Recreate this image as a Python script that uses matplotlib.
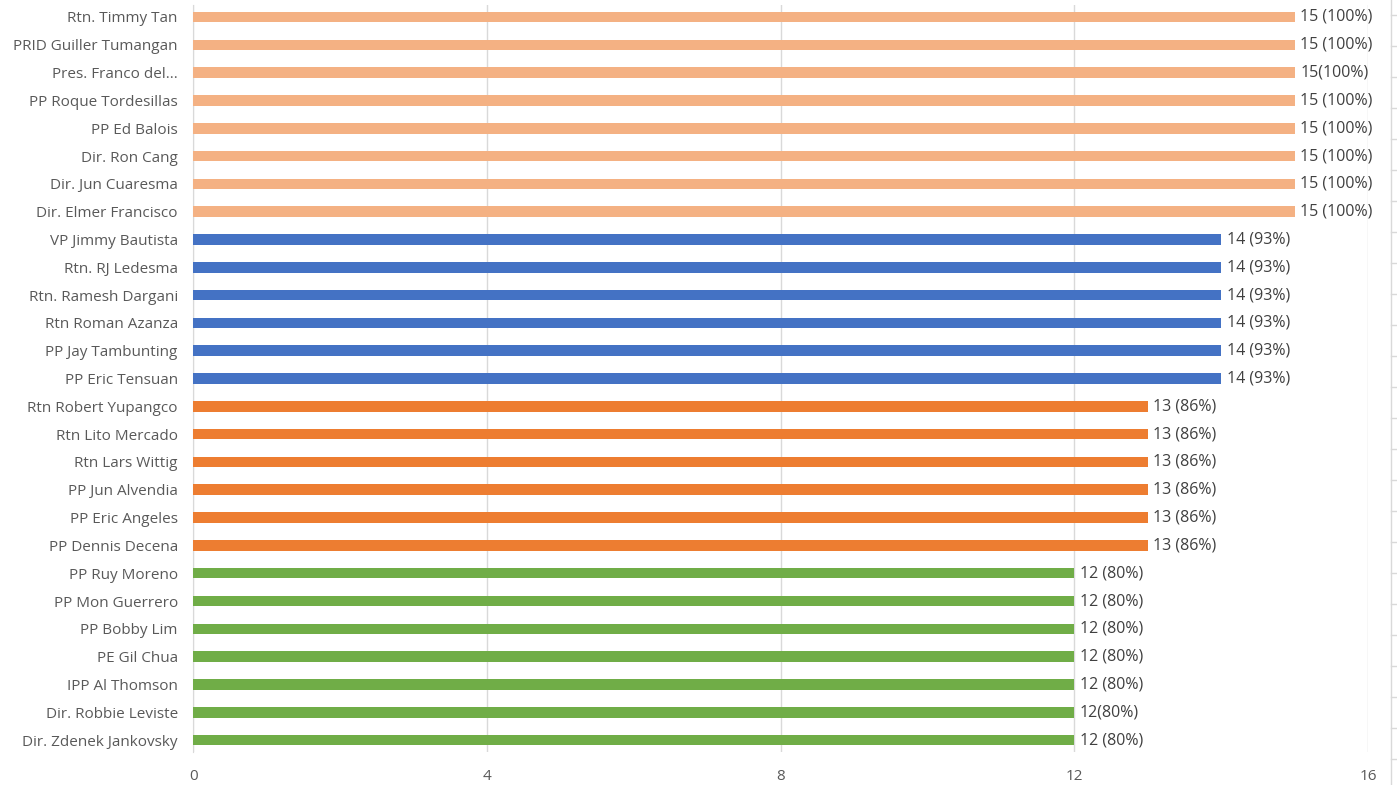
import matplotlib.pyplot as plt
from matplotlib.lines import Line2D

names = ["Rtn. Timmy Tan", "PRID Guiller Tumangan", "Pres. Franco del...", "PP Roque Tordesillas",
         "PP Ed Balois", "Dir. Ron Cang", "Dir. Jun Cuaresma", "Dir. Elmer Francisco",
         "VP Jimmy Bautista", "Rtn. RJ Ledesma", "Rtn. Ramesh Dargani", "Rtn Roman Azanza",
         "PP Jay Tambunting", "PP Eric Tensuan",
         "Rtn Robert Yupangco", "Rtn Lito Mercado", "Rtn Lars Wittig", "PP Jun Alvendia",
         "PP Eric Angeles", "PP Dennis Decena",
         "PP Ruy Moreno", "PP Mon Guerrero", "PP Bobby Lim", "PE Gil Chua", "IPP Al Thomson",
         "Dir. Robbie Leviste", "Dir. Zdenek Jankovsky"]
values = [15] * 8 + [14] * 6 + [13] * 6 + [12] * 7
labels = ["15 (100%)", "15 (100%)", "15(100%)", "15 (100%)", "15 (100%)", "15 (100%)", "15 (100%)", "15 (100%)",
          "14 (93%)", "14 (93%)", "14 (93%)", "14 (93%)", "14 (93%)", "14 (93%)",
          "13 (86%)", "13 (86%)", "13 (86%)", "13 (86%)", "13 (86%)", "13 (86%)",
          "12 (80%)", "12 (80%)", "12 (80%)", "12 (80%)", "12 (80%)", "12(80%)", "12 (80%)"]
group_colors = {15: "#F4B183", 14: "#4472C4", 13: "#ED7D31", 12: "#70AD47"}
xticks = [0, 4, 8, 12, 16]

plt.rcParams['font.family'] = ['Open Sans', 'DejaVu Sans']
txt = "#595959"

fig = plt.figure(figsize=(13.97, 7.85), dpi=100)
ax = fig.add_axes([0.1382, 0.042, 0.841, 0.9516])

n = len(names)
ypos = list(range(n - 1, -1, -1))
colors = [group_colors[v] for v in values]
ax.barh(ypos, values, height=0.38, color=colors, zorder=3)
for y, v, lab in zip(ypos, values, labels):
    ax.annotate(lab, (v, y), xytext=(4, 0), textcoords="offset points",
                va="center", ha="left", fontsize=11.5, color="#404040")

ax.set_yticks(ypos)
ax.set_yticklabels(names, fontsize=11, color=txt)
ax.set_xticks(xticks)
ax.set_xticklabels([str(t) for t in xticks], fontsize=11, color=txt)
ax.set_xlim(0, 16)
ax.set_ylim(-0.43, n - 1 + 0.43)
ax.tick_params(axis="both", length=0)
ax.tick_params(axis="y", pad=11)
ax.tick_params(axis="x", pad=12)
ax.grid(axis="x", color="#D9D9D9", linewidth=1, zorder=0)
for s in ["top", "right", "bottom"]:
    ax.spines[s].set_visible(False)
ax.spines["left"].set_color("#D9D9D9")

# spreadsheet edge at right
fig.add_artist(Line2D([1391 / 1397, 1391 / 1397], [0, 1], color="#D9D9D9", lw=1))
for k in range(26):
    yy = 1 - (15 + 31 * k) / 785
    if yy > 0:
        fig.add_artist(Line2D([1391 / 1397, 1], [yy, yy], color="#D9D9D9", lw=1))

fig.savefig("out.png", dpi=100)
